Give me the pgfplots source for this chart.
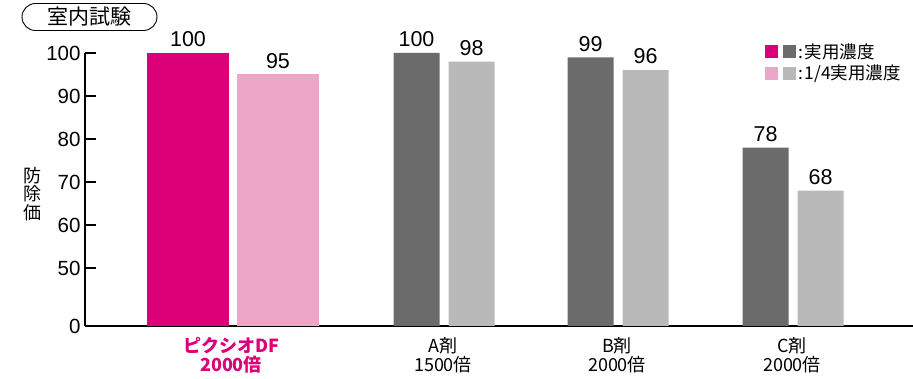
\documentclass[border=0pt]{standalone}
\usepackage{pgfplots}
\pgfplotsset{compat=1.18}
\usepackage{fontspec}
\setmainfont{Liberation Sans}
\newfontfamily\jp{Noto Sans CJK JP}
\definecolor{mag}{HTML}{DB0077}
\definecolor{lpink}{HTML}{EDA5C8}
\definecolor{dgray}{HTML}{6B6B6B}
\definecolor{lgray}{HTML}{B9B9B9}
\begin{document}
\begin{tikzpicture}
\useasboundingbox (-85pt,-53pt) rectangle (828pt,326pt);
\begin{axis}[
  at={(0,0)}, anchor=south west,
  scale only axis, width=828pt, height=273pt,
  xmin=0, xmax=828, ymin=0, ymax=63.5,
  axis lines*=left,
  axis line style={line width=1.3pt},
  xtick=\empty,
  ytick={0,13.5,23.5,33.5,43.5,53.5,63.5},
  yticklabels={0,50,60,70,80,90,100},
  tick align=inside,
  major tick length=11pt,
  ytick style={line width=1.3pt,black},
  yticklabel style={font=\fontsize{20.5}{20.5}\selectfont, xshift=-1pt},
  /pgf/number format/assume math mode=true,
  y filter/.expression={y-36.5},
  point meta=rawy,
  ybar, bar shift=0pt,
  nodes near coords,
  every node near coord/.append style={font=\fontsize{21.5}{21.5}\selectfont, black, yshift=2.5pt},
  clip=false,
]
\addplot[fill=mag, draw=none, bar width=82] coordinates {(103,100)};
\addplot[fill=lpink, draw=none, bar width=82] coordinates {(193,95)};
\addplot[fill=dgray, draw=none, bar width=46] coordinates {(331.5,100) (505.5,99) (680.5,78)};
\addplot[fill=lgray, draw=none, bar width=46] coordinates {(386.5,98) (560.5,96) (735.5,68)};
\end{axis}
% title
\node[draw, line width=0.9pt, rounded corners=13.5pt, minimum width=135pt, minimum height=27pt, inner sep=0pt, font=\jp\fontsize{21}{21}\selectfont] at (4.5pt,309pt) {室内試験};
% y label
\node[font=\jp\fontsize{18}{18.5}\selectfont, align=center] at (-52pt,132pt) {防\\除\\価};
% categories
\node[font=\jp\bfseries\fontsize{18}{18}\selectfont, text=mag] at (146pt,-20pt) {ピクシオDF};
\node[font=\jp\bfseries\fontsize{18}{18}\selectfont, text=mag] at (146pt,-39pt) {2000倍};
\node[font=\jp\fontsize{18}{18}\selectfont] at (358pt,-20pt) {A剤};
\node[font=\jp\fontsize{18}{18}\selectfont] at (358pt,-39pt) {1500倍};
\node[font=\jp\fontsize{18}{18}\selectfont] at (532pt,-20pt) {B剤};
\node[font=\jp\fontsize{18}{18}\selectfont] at (532pt,-39pt) {2000倍};
\node[font=\jp\fontsize{18}{18}\selectfont] at (707pt,-20pt) {C剤};
\node[font=\jp\fontsize{18}{18}\selectfont] at (707pt,-39pt) {2000倍};
% legend
\fill[mag] (680pt,268pt) rectangle ++(13pt,13pt);
\fill[dgray] (698pt,268pt) rectangle ++(13pt,13pt);
\fill[lpink] (680pt,245.5pt) rectangle ++(13pt,13pt);
\fill[lgray] (698pt,245.5pt) rectangle ++(13pt,13pt);
\node[anchor=west, inner sep=0pt, font=\jp\fontsize{17.5}{17.5}\selectfont] at (713pt,274.5pt) {:\hspace{1.5pt}実用濃度};
\node[anchor=west, inner sep=0pt, font=\jp\fontsize{17.5}{17.5}\selectfont] at (713pt,252pt) {:\hspace{1.5pt}1/4実用濃度};
\end{tikzpicture}
\end{document}
